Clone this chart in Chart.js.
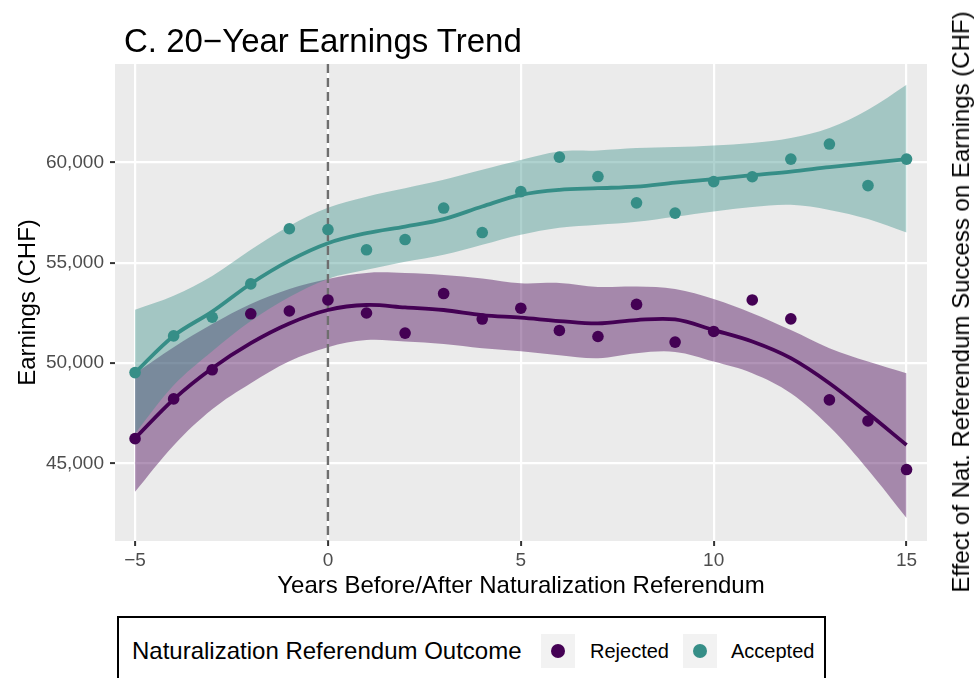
<!DOCTYPE html>
<html><head><meta charset="utf-8">
<script src="https://cdn.jsdelivr.net/npm/chart.js@4.4.1/dist/chart.umd.min.js"></script>
<style>
html,body{margin:0;padding:0;background:#fff;}
#wrap{position:relative;width:976px;height:678px;overflow:hidden;font-family:"Liberation Sans",Arial,sans-serif;}
canvas{position:absolute;left:0;top:0;}
.t{position:absolute;white-space:nowrap;line-height:1;color:#000;}
#legend{position:absolute;left:117px;top:616px;width:705px;height:80px;border:2px solid #000;background:#fff;}
.key{position:absolute;width:34px;height:34px;background:#F2F2F2;}
.dot{position:absolute;left:10px;top:10px;width:14px;height:14px;border-radius:50%;}
</style></head><body>
<div id="wrap">
<canvas id="c" width="976" height="678"></canvas>
<div class="t" style="left:124px;top:24px;font-size:33px;">C. 20−Year Earnings Trend</div>
<div class="t" style="left:961px;top:302px;font-size:24px;transform:translate(-50%,-50%) rotate(-90deg);">Effect of Nat. Referendum Success on Earnings (CHF)</div>
<div id="legend">
  <div class="t" style="left:13px;top:21px;font-size:24px;">Naturalization Referendum Outcome</div>
  <div class="key" style="left:422px;top:16px;"><div class="dot" style="background:#440154"></div></div>
  <div class="t" style="left:471px;top:23px;font-size:20px;">Rejected</div>
  <div class="key" style="left:564px;top:16px;"><div class="dot" style="background:#368e87"></div></div>
  <div class="t" style="left:612px;top:23px;font-size:20px;">Accepted</div>
</div>
</div>
<script>
// ---- data ----
const years = [-5,-4,-3,-2,-1,0,1,2,3,4,5,6,7,8,9,10,11,12,13,14,15];
const rejectedPoints = [46240,48220,49670,52460,52600,53150,52500,51500,53470,52200,52740,51630,51330,52930,51050,51580,53150,52210,48170,47120,44700];
const acceptedPoints = [49530,51360,52290,53950,56700,56660,55650,56160,57730,56510,58550,60270,59300,57990,57480,59050,59290,60170,60920,58850,60170];
const rejectedFit   = [46260,48200,49750,51000,51980,52650,52900,52780,52650,52400,52270,52100,51980,52150,52180,51650,51080,50250,49000,47500,45920];
const rejectedLower = [43590,45900,47700,49000,50100,50800,51150,51080,50960,50750,50600,50400,50250,50500,50560,50080,49500,48500,46840,44690,42280];
const rejectedUpper = [49500,50800,51950,52950,53700,54200,54500,54500,54400,54220,53980,54000,53800,53820,53700,53200,52490,51650,50750,50080,49500];
const acceptedFit   = [49530,51360,52570,53960,55110,55980,56480,56810,57180,57810,58390,58640,58720,58800,59000,59170,59370,59550,59770,59970,60170];
const acceptedLower = [46500,48900,50600,52100,53300,54200,54650,55050,55400,55900,56400,56750,56900,57050,57300,57560,57780,57890,57640,57180,56510];
const acceptedUpper = [52660,53360,54350,55650,56840,57740,58300,58720,59140,59640,60130,60550,60600,60720,60770,60850,60970,61220,61720,62630,63880];
const xTicks = [-5,0,5,10,15];
const xTickLabels = ['−5','0','5','10','15'];
const yTicks = [45000,50000,55000,60000];
const yTickLabels = ['45,000','50,000','55,000','60,000'];
const referendumYear = 0;

// ---- chart ----
const FAM = '"Liberation Sans", Arial, sans-serif';
const PURPLE = '#440154', TEAL = '#368e87';
const pts = vals => years.map((x,i)=>({x:x, y:vals[i]}));
const NONE = 'rgba(0,0,0,0)';
const T = 0.35;

const panelBg = {id:'panelBg', beforeDraw(chart){
  const {ctx, chartArea:a} = chart;
  ctx.save(); ctx.fillStyle='#EBEBEB'; ctx.fillRect(a.left,a.top,a.right-a.left,a.bottom-a.top); ctx.restore();
}};
const vline = {id:'vline', afterDatasetDraw(chart,args){
  if(args.index!==3) return;
  const {ctx, chartArea:a, scales} = chart;
  const px = scales.x.getPixelForValue(referendumYear);
  ctx.save(); ctx.beginPath(); ctx.setLineDash([9,5]); ctx.lineWidth=2.4; ctx.strokeStyle='#6e6e6e';
  ctx.moveTo(px,a.top); ctx.lineTo(px,a.bottom); ctx.stroke(); ctx.restore();
}};

new Chart(document.getElementById('c'), {
  type:'line',
  data:{datasets:[
    {label:'rejLower', data:pts(rejectedLower), borderColor:NONE, borderWidth:0, pointRadius:0, fill:false, tension:T, order:10},
    {label:'rejUpper', data:pts(rejectedUpper), borderColor:NONE, borderWidth:0, pointRadius:0, fill:0, backgroundColor:'rgba(68,1,84,0.42)', tension:T, order:9},
    {label:'accLower', data:pts(acceptedLower), borderColor:NONE, borderWidth:0, pointRadius:0, fill:false, tension:T, order:8},
    {label:'accUpper', data:pts(acceptedUpper), borderColor:NONE, borderWidth:0, pointRadius:0, fill:2, backgroundColor:'rgba(54,142,135,0.4)', tension:T, order:7},
    {label:'Rejected fit', data:pts(rejectedFit), borderColor:PURPLE, borderWidth:3.8, pointRadius:0, fill:false, tension:T, order:4},
    {label:'Accepted fit', data:pts(acceptedFit), borderColor:TEAL, borderWidth:3.8, pointRadius:0, fill:false, tension:T, order:3},
    {label:'Rejected', data:pts(rejectedPoints), showLine:false, pointRadius:5.8, pointBackgroundColor:PURPLE, pointBorderWidth:0, pointBorderColor:PURPLE, order:2},
    {label:'Accepted', data:pts(acceptedPoints), showLine:false, pointRadius:5.8, pointBackgroundColor:TEAL, pointBorderWidth:0, pointBorderColor:TEAL, order:1}
  ]},
  options:{
    responsive:false, animation:false, devicePixelRatio:1,
    layout:{padding:{top:64,left:0,right:49,bottom:75}},
    plugins:{legend:{display:false}, tooltip:{enabled:false}, title:{display:false}},
    scales:{
      x:{type:'linear', min:-5.52, max:15.53,
        afterBuildTicks:s=>{s.ticks=xTicks.map(v=>({value:v}));},
        afterFit:s=>{s.height=62;},
        ticks:{callback:(v,i)=>xTickLabels[i], font:{size:19,family:FAM}, color:'#4D4D4D', padding:3, autoSkip:false, maxRotation:0},
        grid:{color:'#FFFFFF', lineWidth:2.2, tickColor:'#333333', tickLength:5, tickWidth:2},
        border:{display:false},
        title:{display:true, text:'Years Before/After Naturalization Referendum', font:{size:24,family:FAM}, color:'#000', padding:{top:0,bottom:2}}
      },
      y:{type:'linear', min:41138, max:64910,
        afterBuildTicks:s=>{s.ticks=yTicks.map(v=>({value:v}));},
        afterFit:s=>{s.width=115;},
        ticks:{callback:(v,i)=>yTickLabels[i], font:{size:19,family:FAM}, color:'#4D4D4D', padding:6},
        grid:{color:'#FFFFFF', lineWidth:2.2, tickColor:'#333333', tickLength:5, tickWidth:2},
        border:{display:false},
        title:{display:true, text:'Earnings (CHF)', font:{size:24,family:FAM}, color:'#000', padding:{top:13.6,bottom:0}}
      }
    }
  },
  plugins:[panelBg, vline]
});
</script>
</body></html>
